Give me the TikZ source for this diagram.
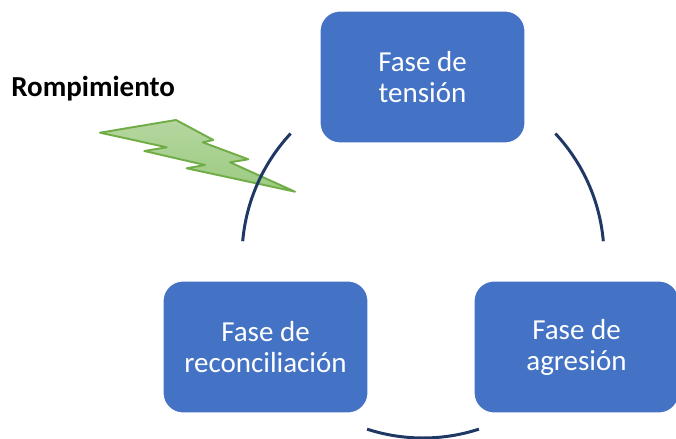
\documentclass[tikz,border=0pt]{standalone}
\usepackage{fontspec}
\setmainfont{Carlito}
\usepackage{tkz-euclide}
\definecolor{fasefill}{HTML}{4472C4}
\definecolor{ciclo}{HTML}{203864}
\definecolor{rayoline}{HTML}{70AD47}
\definecolor{rayotop}{HTML}{B5D6A0}
\definecolor{rayobot}{HTML}{9BCB80}
\begin{document}
\begin{tikzpicture}[x=0.02cm,y=0.02cm,
  fase/.style={draw=white,line width=0.6pt,fill=fasefill,rounded corners=0.4cm,
    minimum width=4.1cm,minimum height=2.64cm,text=white,align=center,
    font=\fontsize{16.5pt}{17.6pt}\selectfont},
  arco/.style={draw=ciclo,line width=1.7pt},
  rayo/.style={draw=rayoline,line width=1.1pt,line join=round,
    top color=rayotop,bottom color=rayobot}]
\useasboundingbox (0,0) rectangle (676,439);
\tkzDefPoint(423,182){O}
\tkzDefPoint(422.5,362){Ten}
\tkzDefPoint(265.5,92){Rec}
\tkzDefPoint(576.5,92){Agr}
\tkzDefPoint(11,342.5){Rom}
% rayo
\tkzDefPoint(100,306.3){A}
\tkzDefPoint(176,319){B}
\tkzDefPoint(213.3,299){C}
\tkzDefPoint(202.7,296.7){D}
\tkzDefPoint(248.3,279.7){E}
\tkzDefPoint(230,276.7){F}
\tkzDefPoint(295,247.3){G}
\tkzDefPoint(186.7,270.7){H}
\tkzDefPoint(205,274){I}
\tkzDefPoint(144.3,288){J}
\tkzDefPoint(166.7,291.7){K}
\tkzDrawPolygon[rayo](A,B,C,D,E,F,G,H,I,J,K)
% ciclo
\draw[arco] (O) ++(137:181) arc[start angle=137,end angle=175,radius=181];
\draw[arco] (O) ++(5:181) arc[start angle=5,end angle=43,radius=181];
\draw[arco] (O) ++(252:181) arc[start angle=252,end angle=288,radius=181];
\node[fase] (tension) at (Ten) {Fase de\\tensión};
\node[fase] (reconc) at (Rec) {Fase de\\reconciliación};
\node[fase] (agresion) at (Agr) {Fase de\\agresión};
\node[anchor=base west,inner sep=0pt,font=\bfseries\fontsize{16.5pt}{17.6pt}\selectfont] (romp) at (Rom) {Rompimiento};
\end{tikzpicture}
\end{document}
